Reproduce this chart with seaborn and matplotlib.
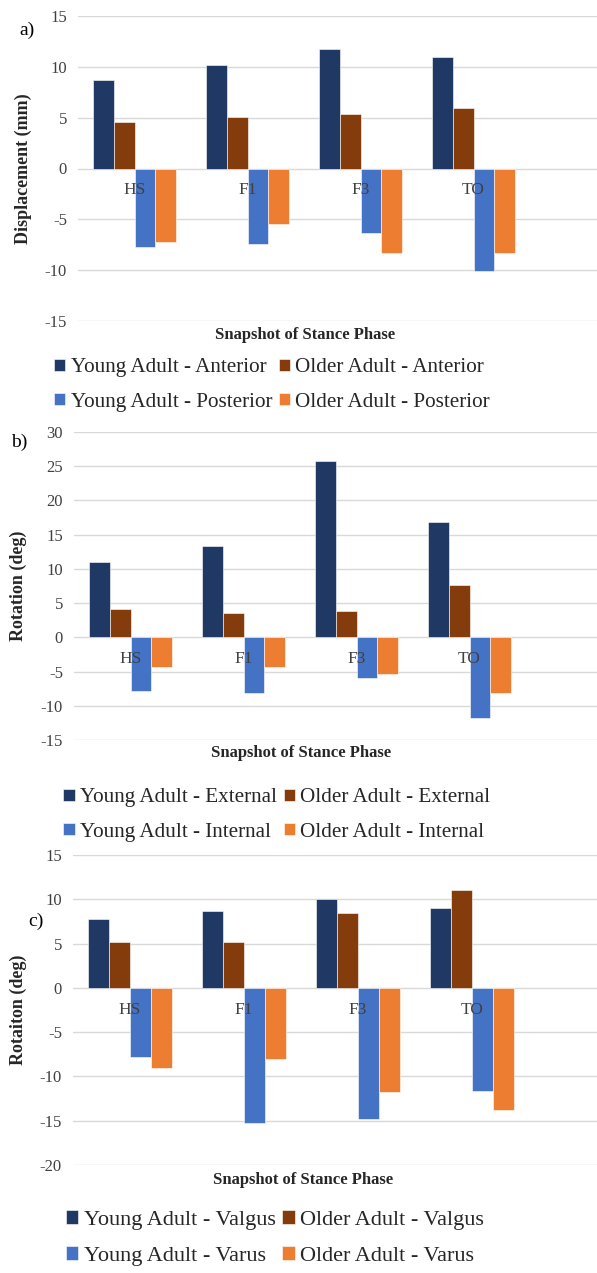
import numpy as np
import pandas as pd
import matplotlib
matplotlib.use("Agg")
import matplotlib.pyplot as plt
import seaborn as sns

# ---------------- data ----------------
categories = ["HS", "F1", "F3", "TO"]

# panel a: displacement (mm)
a_series = ["Young Adult - Anterior", "Older Adult - Anterior",
            "Young Adult - Posterior", "Older Adult - Posterior"]
a_young_ant = [8.7, 10.2, 11.8, 11.0]
a_older_ant = [4.6, 5.1, 5.4, 6.0]
a_young_post = [-7.7, -7.4, -6.3, -10.1]
a_older_post = [-7.2, -5.5, -8.3, -8.3]

# panel b: rotation (deg)
b_series = ["Young Adult - External", "Older Adult - External",
            "Young Adult - Internal", "Older Adult - Internal"]
b_young_ext = [11.0, 13.3, 25.7, 16.9]
b_older_ext = [4.1, 3.6, 3.9, 7.7]
b_young_int = [-7.9, -8.1, -5.9, -11.8]
b_older_int = [-4.4, -4.4, -5.4, -8.1]

# panel c: valgus / varus rotation (deg)
c_series = ["Young Adult - Valgus", "Older Adult - Valgus",
            "Young Adult - Varus", "Older Adult - Varus"]
c_young_valgus = [7.8, 8.7, 10.0, 9.0]
c_older_valgus = [5.2, 5.2, 8.4, 11.0]
c_young_varus = [-7.8, -15.3, -14.8, -11.6]
c_older_varus = [-9.0, -8.0, -11.8, -13.8]

colors = ["#203864", "#843C0C", "#4472C4", "#ED7D31"]

# ---------------- style ----------------
sns.set_theme(style="white")
plt.rcParams["font.family"] = ["Liberation Serif", "DejaVu Serif"]
plt.rcParams["axes.unicode_minus"] = False

W, H = 597, 1273
fig = plt.figure(figsize=(W / 100, H / 100), dpi=100)


def long_df(series, values):
    rows = []
    for s, vals in zip(series, values):
        for c, v in zip(categories, vals):
            rows.append({"cat": c, "series": s, "value": v})
    return pd.DataFrame(rows)


def panel(rect_px, ylim, yticks, spacing, series, values, ylabel, ylab_x,
          xlab_px, leg_center, leg_size, leg_spacing, letter, letter_xy):
    left, top, bottom = rect_px
    width = W - left
    ax = fig.add_axes([left / W, 1 - bottom / H, width / W, (bottom - top) / H])
    df = long_df(series, values)
    sns.barplot(data=df, x="cat", y="value", hue="series", order=categories,
                hue_order=series, palette=colors, width=0.73, dodge=True,
                saturation=1, ax=ax, legend=True)
    ax.set_xlim(-0.5, -0.5 + width / spacing)
    ax.set_ylim(*ylim)
    ax.set_yticks(yticks)
    ax.set_yticklabels([str(t) for t in yticks], fontsize=12, color="#404040")
    ax.yaxis.grid(True, color="#D9D9D9", linewidth=1)
    ax.set_axisbelow(True)
    ax.xaxis.set_zorder(5)   # category labels drawn over the bars
    for s in ["left", "right", "top"]:
        ax.spines[s].set_visible(False)
    ax.spines["bottom"].set_position(("data", 0))
    ax.spines["bottom"].set_visible(False)
    ax.tick_params(axis="both", length=0)
    ax.tick_params(axis="y", pad=8)
    ax.tick_params(axis="x", pad=10, labelsize=12.5, labelcolor="#404040")
    for p in ax.patches:
        p.set_edgecolor("white")
        p.set_linewidth(0.4)
    ax.set_ylabel(ylabel, fontsize=13, fontweight="bold", color="#262626")
    ax.yaxis.set_label_coords((ylab_x - left) / width, 0.5)
    ax.set_xlabel("Snapshot of Stance Phase", fontsize=12, fontweight="bold",
                  color="#262626")
    xl_x, xl_y = xlab_px
    ax.xaxis.set_label_coords((xl_x - left) / width, -(xl_y - bottom) / (bottom - top))
    ax.xaxis.label.set_va("center")
    handles, labels = ax.get_legend_handles_labels()
    order = [0, 2, 1, 3]
    ax.legend([handles[i] for i in order], [labels[i] for i in order],
              ncol=2, loc="center",
              bbox_to_anchor=(leg_center[0] / W, 1 - leg_center[1] / H),
              bbox_transform=fig.transFigure, frameon=False,
              fontsize=leg_size, handlelength=0.55, handleheight=0.55,
              handletextpad=0.25, columnspacing=0.3, labelspacing=leg_spacing,
              borderpad=0, labelcolor="#262626")
    fig.text(letter_xy[0] / W, 1 - letter_xy[1] / H, letter, fontsize=14,
             ha="center", va="center", color="#000000")
    return ax


panel((78, 16, 321), (-15, 15), [-15, -10, -5, 0, 5, 10, 15], 113,
      a_series, [a_young_ant, a_older_ant, a_young_post, a_older_post],
      "Displacement (mm)", 32, (305, 335), (272, 385), 15.2, 0.72,
      "a)", (27, 30))

panel((74, 432, 740), (-15, 30), [-15, -10, -5, 0, 5, 10, 15, 20, 25, 30], 113,
      b_series, [b_young_ext, b_older_ext, b_young_int, b_older_int],
      "Rotation (deg)", 27, (301, 753), (277, 815), 15.2, 0.72,
      "b)", (19, 442))

panel((73, 855, 1165), (-20, 15), [-20, -15, -10, -5, 0, 5, 10, 15], 114,
      c_series, [c_young_valgus, c_older_valgus, c_young_varus, c_older_varus],
      "Rotaiton (deg)", 27, (303, 1180), (275, 1238), 16, 0.75,
      "c)", (36, 921))

fig.savefig("out.png", dpi=100)
